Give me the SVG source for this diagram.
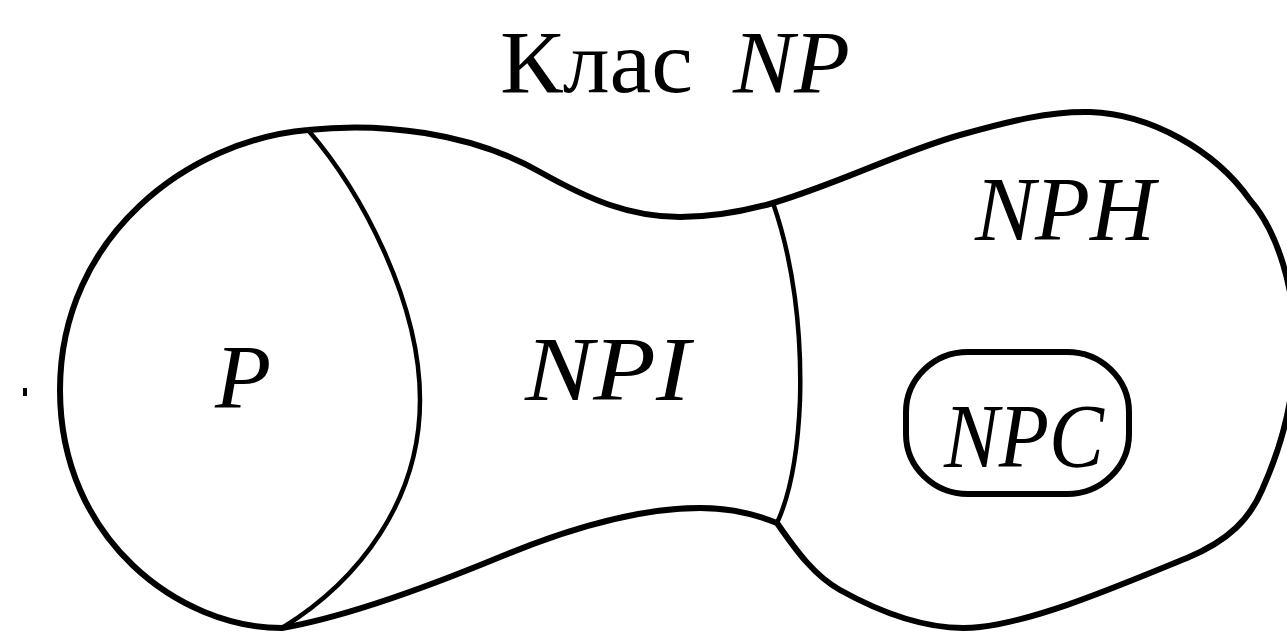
<svg xmlns="http://www.w3.org/2000/svg" width="1287" height="635" viewBox="0 0 1287 635">
<style>
.line{fill:none;stroke:#000;stroke-linejoin:round;stroke-linecap:round}
.outer{stroke-width:6}
.inner{stroke-width:4.5}
.lbl{font-family:"Liberation Serif","DejaVu Serif",serif;font-style:italic;font-size:92px;fill:#000}
.title{font-family:"Liberation Serif","DejaVu Serif",serif;font-size:88px;fill:#000}
</style>
<rect width="1287" height="635" fill="#fff"/>
<g id="title">
<text class="title" x="500" y="92"><tspan textLength="193" lengthAdjust="spacingAndGlyphs">Клас</tspan><tspan> </tspan><tspan x="733" font-style="italic" textLength="117" lengthAdjust="spacingAndGlyphs">NP</tspan></text>
</g>
<g id="connectors">
<path id="outline" class="line outer" d="M308,130 C380,122 470,132 540,172 C590,200 630,217 680,217 C715,217 745,211 773,203 C840,183 900,152 960,135 C1010,121 1050,111 1090,112 C1150,114 1215,150 1250,200 C1278,232 1295,290 1295,345 C1295,400 1280,450 1262,490 C1250,518 1230,540 1187,558 C1120,585 1040,620 980,627 C935,632 885,615 840,590 C815,576 797,552 777,523 C755,514 730,508 700,508 C640,508 570,528 500,557 C420,590 340,618 282,628 C180,628 60,540 60,390 C60,235 190,140 308,130 Z"/>
<path id="p-npi" class="line inner" d="M308,130 C360,190 420,300 420,400 C420,500 360,580 282,628"/>
<path id="npi-nph" class="line inner" d="M773,203 C793,260 802,330 800,400 C798,450 790,495 777,523"/>
</g>
<g id="node-P"><text class="lbl" x="215" y="408">P</text></g>
<g id="node-NPI"><text class="lbl" x="525" y="400" textLength="165" lengthAdjust="spacingAndGlyphs">NPI</text></g>
<g id="node-NPH"><text class="lbl" x="975" y="240" textLength="180" lengthAdjust="spacingAndGlyphs">NPH</text></g>
<g id="node-NPC">
<rect class="line outer" x="906" y="352" width="223" height="142" rx="62" ry="60"/>
<text class="lbl" x="944" y="467" textLength="160" lengthAdjust="spacingAndGlyphs">NPC</text>
</g>
<rect id="dot" x="23" y="388" width="4" height="8" fill="#000"/>
</svg>
